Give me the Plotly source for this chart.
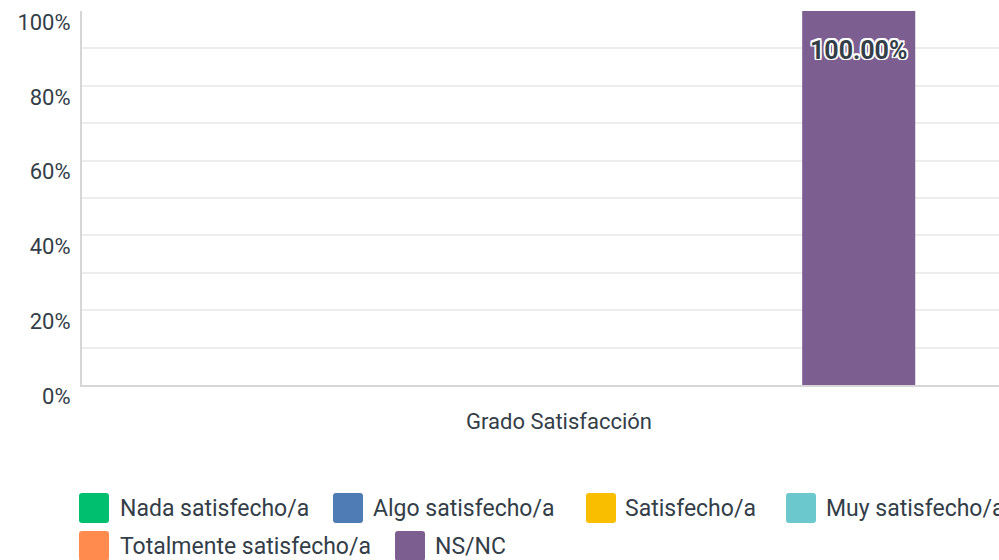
import plotly.graph_objects as go

categories = ["Grado Satisfacción"]
series_names = ["Nada satisfecho/a", "Algo satisfecho/a", "Satisfecho/a",
                "Muy satisfecho/a", "Totalmente satisfecho/a", "NS/NC"]
series_values = [[0.0], [0.0], [0.0], [0.0], [0.0], [100.0]]
series_colors = ["#00BF6F", "#507CB6", "#F9BE00", "#6BC8CD", "#FF8B4F", "#7D5E90"]
y_ticks = [0, 20, 40, 60, 80, 100]
y_tick_labels = ["0%", "20%", "40%", "60%", "80%", "100%"]

W, H = 999, 560
L, R, T, B = 82, 0, 11, 175
PW, PH = W - L - R, H - T - B
TEXT = "#333E48"
FONT = "Roboto"

label_font = dict(family=FONT, size=25, color=TEXT, weight="bold",
                  shadow="white 1.5px 1.5px 0, white -1.5px -1.5px 0, white 1.5px -1.5px 0, white -1.5px 1.5px 0, white 0 1.5px 0, white 0 -1.5px 0, white 1.5px 0 0, white -1.5px 0 0")

fig = go.Figure()
for name, vals, col in zip(series_names, series_values, series_colors):
    fig.add_trace(go.Bar(
        x=categories, y=vals, name=name, marker_color=col, marker_line_width=0,
        showlegend=False, hoverinfo="skip",
        text=[("<span style='font-size:13px'>\u00a0</span><br>%.2f%%" % v) if v > 0 else "" for v in vals],
        texttemplate="%{text}",
        textposition="inside", insidetextanchor="end",
        textangle=0,
        textfont=label_font, insidetextfont=label_font,
        cliponaxis=False,
    ))

def px2paper(px, py):
    return (px - L) / PW, (H - B - py) / PH

shapes = []
annotations = []
legend_items = [
    (79, 493, 120), (333, 493, 373), (586, 493, 625), (786, 493, 826),
    (79, 531, 120), (395, 531, 435),
]
size = 30
rad = 3
for (sx, sy, tx), name, col in zip(legend_items, series_names, series_colors):
    x0, y1 = px2paper(sx, sy)
    x1, y0 = px2paper(sx + size, sy + size)
    rx, ry = rad / PW, rad / PH
    path = (f"M{x0+rx},{y0} L{x1-rx},{y0} Q{x1},{y0} {x1},{y0+ry} L{x1},{y1-ry} "
            f"Q{x1},{y1} {x1-rx},{y1} L{x0+rx},{y1} Q{x0},{y1} {x0},{y1-ry} "
            f"L{x0},{y0+ry} Q{x0},{y0} {x0+rx},{y0} Z")
    shapes.append(dict(type="path", xref="paper", yref="paper", path=path,
                       fillcolor=col, line=dict(width=0), layer="above"))
    ax, ay = px2paper(tx - 2, sy + size / 2)
    annotations.append(dict(xref="paper", yref="paper", x=ax, y=ay, text=name,
                            showarrow=False, xanchor="left", yanchor="middle",
                            font=dict(family=FONT, size=23, color=TEXT)))

fig.update_layout(
    width=W, height=H,
    margin=dict(l=L, r=R, t=T, b=B, pad=0),
    paper_bgcolor="white", plot_bgcolor="white",
    barmode="group", bargap=0.246, bargroupgap=0.057,
    shapes=shapes, annotations=annotations,
    showlegend=False,
    xaxis=dict(type="category", range=[-0.5, -0.5 + PW / 954.0],
               showgrid=False, zeroline=False,
               showline=True, linecolor="#D6D6D6", linewidth=2,
               ticks="", ticklabelstandoff=16,
               tickfont=dict(family=FONT, size=22, color=TEXT)),
    yaxis=dict(range=[0, 100], tickvals=y_ticks, ticktext=y_tick_labels,
               showgrid=True, gridcolor="#EDEDED", gridwidth=2,
               minor=dict(dtick=10, showgrid=True, gridcolor="#EDEDED", gridwidth=2),
               zeroline=False, showline=True, linecolor="#D6D6D6", linewidth=2,
               ticks="", ticklabelstandoff=5, ticklabelshift=11,
               tickfont=dict(family=FONT, size=22, color=TEXT)),
)

fig.write_html("out.html", config={"displayModeBar": False},
               post_script="document.body.style.margin='0';")
